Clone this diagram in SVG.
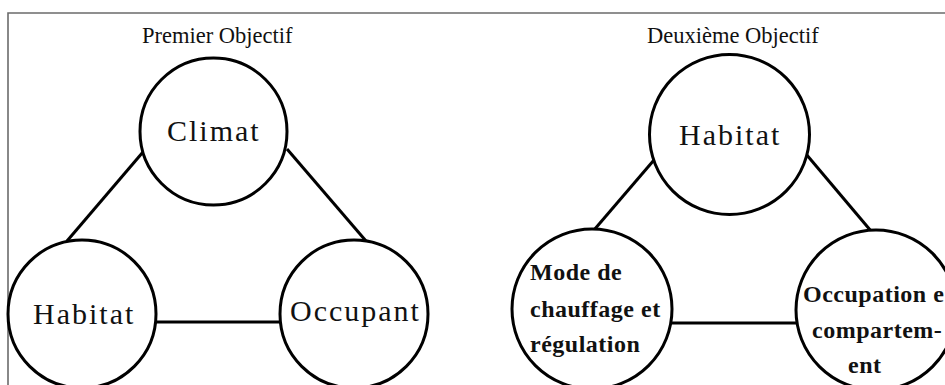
<svg xmlns="http://www.w3.org/2000/svg" width="945" height="385" viewBox="0 0 945 385">
  <style>
    .frame { fill: none; stroke: #6b6b6b; stroke-width: 1.6; }
    .node { fill: #ffffff; stroke: #000000; stroke-width: 3; }
    .link { stroke: #000000; stroke-width: 3; fill: none; }
    .title { font-family: "Liberation Serif", "Times New Roman", serif; font-size: 22.5px; fill: #111111; }
    .label { font-family: "Liberation Serif", "Times New Roman", serif; font-size: 30px; letter-spacing: 2px; fill: #111111; }
    .small { font-family: "Liberation Serif", "Times New Roman", serif; font-size: 24px; font-weight: bold; letter-spacing: 0.5px; fill: #111111; }
  </style>

  <rect width="945" height="385" fill="#ffffff"/>
  <!-- outer frame (open to the right and bottom) -->
  <polyline class="frame" points="8,385 8,13 945,13"/>

  <text class="title" x="142" y="43">Premier Objectif</text>
  <text class="title" x="647" y="43">Deuxième Objectif</text>

  <g id="connectors">
    <line class="link" x1="143" y1="152" x2="67" y2="241"/>
    <line class="link" x1="287" y1="149" x2="366" y2="241"/>
    <line class="link" x1="156" y1="322" x2="280" y2="322"/>
    <line class="link" x1="654" y1="160" x2="594" y2="230"/>
    <line class="link" x1="806" y1="154" x2="871" y2="231"/>
    <line class="link" x1="672" y1="323" x2="796" y2="323"/>
  </g>

  <g id="climat">
    <circle class="node" cx="213.5" cy="131.5" r="73.5"/>
    <text class="label" x="167" y="141">Climat</text>
  </g>
  <g id="habitat-1">
    <circle class="node" cx="82" cy="314" r="74"/>
    <text class="label" x="33" y="324">Habitat</text>
  </g>
  <g id="occupant">
    <circle class="node" cx="354" cy="314" r="74"/>
    <text class="label" x="290" y="321">Occupant</text>
  </g>

  <g id="habitat-2">
    <circle class="node" cx="729.5" cy="134.5" r="80"/>
    <text class="label" x="679" y="145">Habitat</text>
  </g>
  <g id="mode-chauffage">
    <circle class="node" cx="592" cy="309" r="80"/>
    <text class="small" x="530" y="280">Mode de</text>
    <text class="small" x="530" y="317">chauffage et</text>
    <text class="small" x="530" y="352">régulation</text>
  </g>
  <g id="occupation">
    <circle class="node" cx="876" cy="310" r="80"/>
    <text class="small" x="803" y="302">Occupation e</text>
    <text class="small" x="812" y="338">compartem-</text>
    <text class="small" x="848" y="373">ent</text>
  </g>
</svg>
